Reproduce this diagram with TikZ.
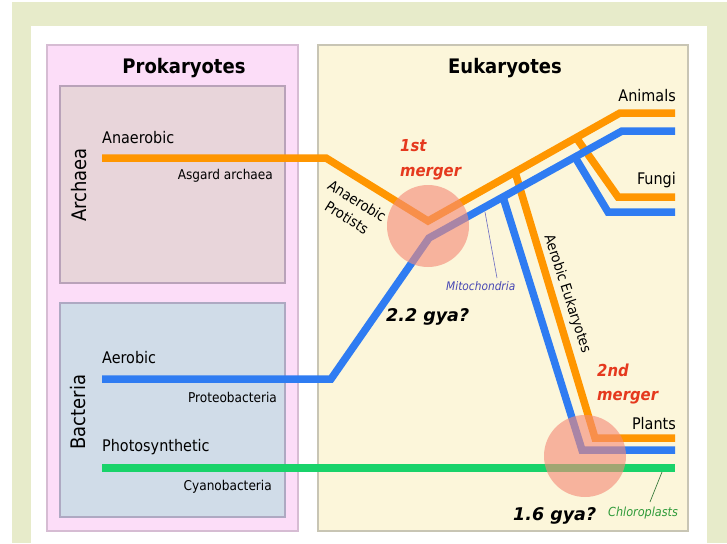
\documentclass[tikz,border=0pt]{standalone}
\usepackage{fontspec}
\setmainfont{DejaVu Sans Condensed}
\newfontfamily\widefont{DejaVu Sans}
\definecolor{bggreen}{HTML}{E7EBCA}
\definecolor{prokfill}{HTML}{FCDDF8}
\definecolor{prokdraw}{HTML}{D6BCD3}
\definecolor{archfill}{HTML}{E8D5DA}
\definecolor{archdraw}{HTML}{B9A2B9}
\definecolor{bactfill}{HTML}{D0DCE8}
\definecolor{bactdraw}{HTML}{AEA9C2}
\definecolor{eukfill}{HTML}{FCF6DA}
\definecolor{eukdraw}{HTML}{C8C5B4}
\definecolor{lorange}{HTML}{FF9600}
\definecolor{lblue}{HTML}{2F7CF2}
\definecolor{lgreen}{HTML}{19D36A}
\definecolor{mergecol}{HTML}{F48B78}
\definecolor{mred}{HTML}{E5391E}
\definecolor{mitocol}{HTML}{4646B4}
\definecolor{chlorocol}{HTML}{2F9B3A}
\newcommand\fsz[1]{\fontsize{#1}{#1}\selectfont}
\begin{document}
\begin{tikzpicture}[x=1pt,y=-1pt,
  lineage/.style={line width=7.5pt, line join=miter, line cap=butt},
  panel/.style={line width=1.2pt},
  mergecirc/.style={fill=mergecol, fill opacity=0.62},
  title/.style={font=\fsz{20}\bfseries, inner sep=0},
  lbl/.style={font=\fsz{16}, inner sep=0},
  sublbl/.style={font=\fsz{13.5}, inner sep=0},
  grp/.style={font=\fsz{20}, inner sep=0, rotate=90, anchor=base},
  mtxt/.style={font=\fsz{16.5}\bfseries\itshape, text=mred, inner sep=0, anchor=base west},
  gya/.style={font=\widefont\fsz{17.5}\bfseries\itshape, inner sep=0, anchor=base west},
  leader/.style={line width=0.6pt}]
\useasboundingbox (0,0) rectangle (727,543);
\fill[white] (0,0) rectangle (727,543);
\fill[bggreen] (12,2) rectangle (727,543);
\fill[white] (31,26) rectangle (707,543);
% panels
\draw[panel, fill=prokfill, draw=prokdraw] (47,45) rectangle (298,531);
\draw[panel, fill=eukfill, draw=eukdraw] (318,45) rectangle (688,531);
\draw[panel, fill=archfill, draw=archdraw] (60,86) rectangle (285,283);
\draw[panel, fill=bactfill, draw=bactdraw] (60,303) rectangle (285,517);
\node[title, anchor=base] (prok) at (184,73) {Prokaryotes};
\node[title, anchor=base] (euk) at (505,73) {Eukaryotes};
\node[grp] (archaea) at (86,185) {Archaea};
\node[grp] (bacteria) at (85,412) {Bacteria};
% coordinates of lineages
\coordinate (o1) at (102,158); \coordinate (o2) at (326,158);
\coordinate (o3) at (428,221); \coordinate (o4) at (620,113);
\coordinate (o5) at (675,113);
\coordinate (of1) at (576,137.4); \coordinate (of2) at (618,197); \coordinate (of3) at (675,197);
\coordinate (oa1) at (515,171.8); \coordinate (oa2) at (595,438); \coordinate (oa3) at (675,438);
\coordinate (b1) at (102,379); \coordinate (b2) at (331,379);
\coordinate (b3) at (429,238); \coordinate (b4) at (622,131);
\coordinate (b5) at (675,131);
\coordinate (bf1) at (575,157.1); \coordinate (bf2) at (608,212); \coordinate (bf3) at (675,212);
\coordinate (ba1) at (503,197); \coordinate (ba2) at (582,450); \coordinate (ba3) at (675,450);
\coordinate (g1) at (102,468); \coordinate (g2) at (675,468);
% lineages
\draw[lineage, lorange] (o1) -- (o2) -- (o3) -- (o4) -- (o5);
\draw[lineage, lorange] (of1) -- (of2) -- (of3);
\draw[lineage, lorange] (oa1) -- (oa2) -- (oa3);
\draw[lineage, lblue] (b1) -- (b2) -- (b3) -- (b4) -- (b5);
\draw[lineage, lblue] (bf1) -- (bf2) -- (bf3);
\draw[lineage, lblue] (ba1) -- (ba2) -- (ba3);
\draw[lineage, lgreen] (g1) -- (g2);
% merger circles
\fill[mergecirc] (428,226) circle (41);
\fill[mergecirc] (585,456) circle (41);
% labels
\node[lbl, anchor=base west] (anaer) at (102,143) {Anaerobic};
\node[sublbl, anchor=base east] (asgard) at (273,179.5) {Asgard archaea};
\node[lbl, anchor=base west] (aerob) at (102,363) {Aerobic};
\node[sublbl, anchor=base east] (proteo) at (277,402.5) {Proteobacteria};
\node[lbl, anchor=base west] (photo) at (102,451) {Photosynthetic};
\node[sublbl, anchor=base east] (cyano) at (272,490) {Cyanobacteria};
\node[lbl, anchor=base east] (animals) at (676,101) {Animals};
\node[lbl, anchor=base east] (fungi) at (676,184) {Fungi};
\node[lbl, anchor=base east] (plants) at (676,429) {Plants};
\node[font=\fsz{14.5}, inner sep=0, align=center, rotate=-32] (anprot) at (352,209)
  {Anaerobic\\[5pt]Protists};
\node[font=\fsz{14.2}, inner sep=0, rotate=-72] (aeroeuk) at (567,294) {Aerobic Eukaryotes};
\node[mtxt] (m1a) at (400,151.5) {1st};
\node[mtxt] (m1b) at (400,176.5) {merger};
\node[mtxt] (m2a) at (597,376.5) {2nd};
\node[mtxt] (m2b) at (597,400) {merger};
\node[gya] (gya1) at (386,321.5) {2.2 gya?};
\node[gya] (gya2) at (513,520) {1.6 gya?};
\node[font=\fsz{11.8}\itshape, text=mitocol, inner sep=0, anchor=base west] (mito) at (446,290.5) {Mitochondria};
\node[font=\fsz{12.5}\itshape, text=chlorocol, inner sep=0, anchor=base west] (chloro) at (608,516.5) {Chloroplasts};
% leaders
\coordinate (mitoA) at (497,278); \coordinate (mitoB) at (485,212);
\draw[leader, draw=mitocol!80] (mitoA) -- (mitoB);
\coordinate (chlA) at (650,502); \coordinate (chlB) at (662,472);
\draw[leader, draw=chlorocol!70!black] (chlA) -- (chlB);
\end{tikzpicture}
\end{document}
